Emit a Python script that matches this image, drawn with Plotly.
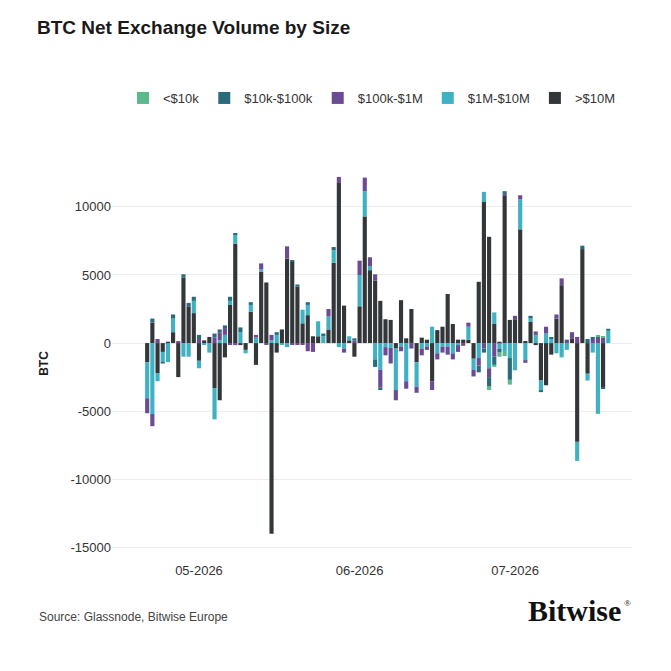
import pandas as pd
import plotly.graph_objects as go

dates = pd.date_range("2026-04-21", "2026-07-19", freq="D")

series_names = ["<$10k", "$10k-$100k", "$100k-$1M", "$1M-$10M", ">$10M"]

gt_10m = [-1400, 1500, -2200, -650, 100, 800, -2500, 4800, 2700, 2200,
          -1300, 200, 450, -3300, -4200, -1050, 2800, 7300, -150, -500,
          2300, -1600, 5250, 4450, -14000, -700, 1000, 6200, 6000, 4150,
          1450, 2050, 500, 500, 0, 1000, 5900, 11800, 2750, 200,
          -1000, 2700, 9300, 5350, 4600, 3100, 1750, 1700, -400, 3150,
          350, 2500, -1400, 400, 250, -2800, 950, 1200, 3600, 1400,
          250, 250, 250, -1150, 4500, 10350, 7800, 1400, 100, 10800,
          1700, 1750, 8350, 150, 1550, -150, -2750, -3100, -850, 1800,
          4250, 0, 350, -7250, 6900, -2250, 0, 0, -3250, 0]

m1_10m = [-2650, -5200, -600, -700, -1400, 1000, 0, -1000, -1000, 900,
          -550, -100, -700, -2300, 200, 600, 300, 650, 800, -250,
          500, 400, 150, 0, 200, 600, -100, -300, 0, 0,
          1000, 750, 0, 1100, 500, 950, 900, -300, -400, 300,
          0, 2300, 1850, 300, -1200, -1950, -300, -350, -3050, -250,
          -2800, 0, -1800, -400, -250, 1200, -750, -250, -250, -750,
          -150, 0, 950, -800, -1100, 750, -1850, 850, -400, -650,
          -1100, -2000, 2200, -1250, 350, 600, -700, 700, 350, -750,
          -1050, -500, 0, -1400, 0, -500, -700, -5200, 0, 900]

k100_1m = [-1100, -900, 300, 0, 0, 0, 150, 0, 0, 0,
           300, 0, 0, 400, 600, 500, -100, -150, 0, 0,
           0, 200, 450, -100, 400, 0, 0, 900, -100, -100,
           -100, -600, -650, 0, 0, 550, 0, 400, -300, 0,
           200, 1050, 1000, 650, 450, -1300, -600, -1150, -750, -350,
           -550, -400, -450, -500, -250, -650, -450, -450, -600, -450,
           -500, -200, 300, -500, -550, -400, -650, -1000, 0, 150,
           0, 250, 300, -200, 0, 250, 0, 500, 0, 300,
           500, 250, 450, 450, 0, 0, 300, 450, 400, 0]

k10_100k = [0, 300, 0, -150, 0, 300, 0, 250, 250, 300,
            300, 0, 0, 300, 200, 200, 300, 100, 350, 0,
            200, 0, 0, 0, 0, 200, 0, 0, 100, 150,
            0, 200, 0, 0, 200, 0, 250, 0, 0, 0,
            150, 0, 0, 0, -550, -200, 0, 0, 0, 0,
            0, 0, 0, 0, 0, 0, 0, 0, 0, 0,
            0, 0, 0, 0, -500, -300, -700, -600, -300, 200,
            -1600, 0, 0, 0, 100, 0, -150, 0, 100, 0,
            0, 0, 0, 0, 250, 300, 150, 0, -100, 150]

lt_10k = [0, 0, 0, 0, 0, 0, 0, 0, 0, 0,
          0, 0, 0, 0, 0, 0, 0, 0, 0, 0,
          0, 0, 0, 0, 0, 0, 0, 0, 0, 0,
          0, 0, 0, 0, 0, 0, 0, 0, 0, 0,
          0, 0, 0, 0, 0, 0, 0, 0, 0, 0,
          0, 0, 0, 0, 0, 0, 0, 0, 0, 0,
          0, 0, 0, 0, 0, 0, -250, -150, -300, -300,
          -350, 0, 0, 0, 0, 0, 0, 0, 0, 0,
          0, 0, 0, 0, 0, 0, 0, 100, 100, 0]

y_tickvals = [-15000, -10000, -5000, 0, 5000, 10000]
y_ticktext = ["-15000", "-10000", "-5000", "0", "5000", "10000"]

colors = {
    "<$10k": "#5cb98b",
    "$10k-$100k": "#2a6b7b",
    "$100k-$1M": "#6b4b94",
    "$1M-$10M": "#3eb2c2",
    ">$10M": "#343739",
}

values = {
    "<$10k": lt_10k,
    "$10k-$100k": k10_100k,
    "$100k-$1M": k100_1m,
    "$1M-$10M": m1_10m,
    ">$10M": gt_10m,
}

fig = go.Figure()
# add largest first so it stacks closest to zero; legend reversed
for name in reversed(series_names):
    fig.add_trace(go.Bar(x=dates, y=values[name], name=name,
                         marker=dict(color=colors[name], line=dict(width=0))))

W, H = 671, 671
ml, mr, mt, mb = 112, 39, 166, 110
pw, ph = W - ml - mr, H - mt - mb

font = "Liberation Sans, Arial, sans-serif"
serif = "Liberation Serif, Times New Roman, serif"

fig.update_layout(
    width=W, height=H,
    margin=dict(l=ml, r=mr, t=mt, b=mb),
    barmode="relative",
    bargap=0.2,
    plot_bgcolor="white",
    paper_bgcolor="white",
    font=dict(family=font, size=13, color="#333333"),
    title=dict(text="<b>BTC Net Exchange Volume by Size</b>",
               x=37 / W, xref="container", xanchor="left",
               y=1 - 27 / H, yref="container", yanchor="middle",
               font=dict(family=font, size=19, color="#1a1a1a")),
    legend=dict(orientation="h", traceorder="reversed",
                x=0.5, xanchor="center", xref="paper",
                y=1 - 98 / H, yref="container", yanchor="middle",
                font=dict(family=font, size=13, color="#333333"),
                itemclick=False),
    xaxis=dict(type="date",
               range=["2026-04-14 05:00", "2026-07-23 14:00"],
               tickformat="%m-%Y", dtick="M1", tick0="2026-05-01",
               showgrid=False, zeroline=False, showline=False,
               ticks="", tickfont=dict(size=13, color="#333333")),
    yaxis=dict(range=[-16000, 13000],
               tickvals=y_tickvals, ticktext=y_ticktext,
               showgrid=True, gridcolor="#ececec", gridwidth=1,
               zeroline=False, showline=False, ticks="",
               tickfont=dict(size=13, color="#333333"),
               title=dict(text="<b>BTC</b>", font=dict(size=12, color="#1a1a1a"),
                          standoff=19)),
    showlegend=True,
)

fig.add_annotation(text="Source: Glassnode, Bitwise Europe",
                   xref="paper", yref="paper",
                   x=(37 - ml) / pw, y=(H - mb - 617) / ph,
                   xanchor="left", yanchor="middle", showarrow=False,
                   font=dict(family=font, size=12, color="#444444"))
fig.add_annotation(text="<b>Bitwise</b>",
                   xref="paper", yref="paper",
                   x=(623 - ml) / pw, y=(H - mb - 610) / ph,
                   xanchor="right", yanchor="middle", showarrow=False,
                   font=dict(family=serif, size=30, color="#111111"))
fig.add_annotation(text="®",
                   xref="paper", yref="paper",
                   x=(622 - ml) / pw, y=(H - mb - 603) / ph,
                   xanchor="left", yanchor="middle", showarrow=False,
                   font=dict(family=serif, size=9, color="#111111"))

fig.write_html("out.html")
